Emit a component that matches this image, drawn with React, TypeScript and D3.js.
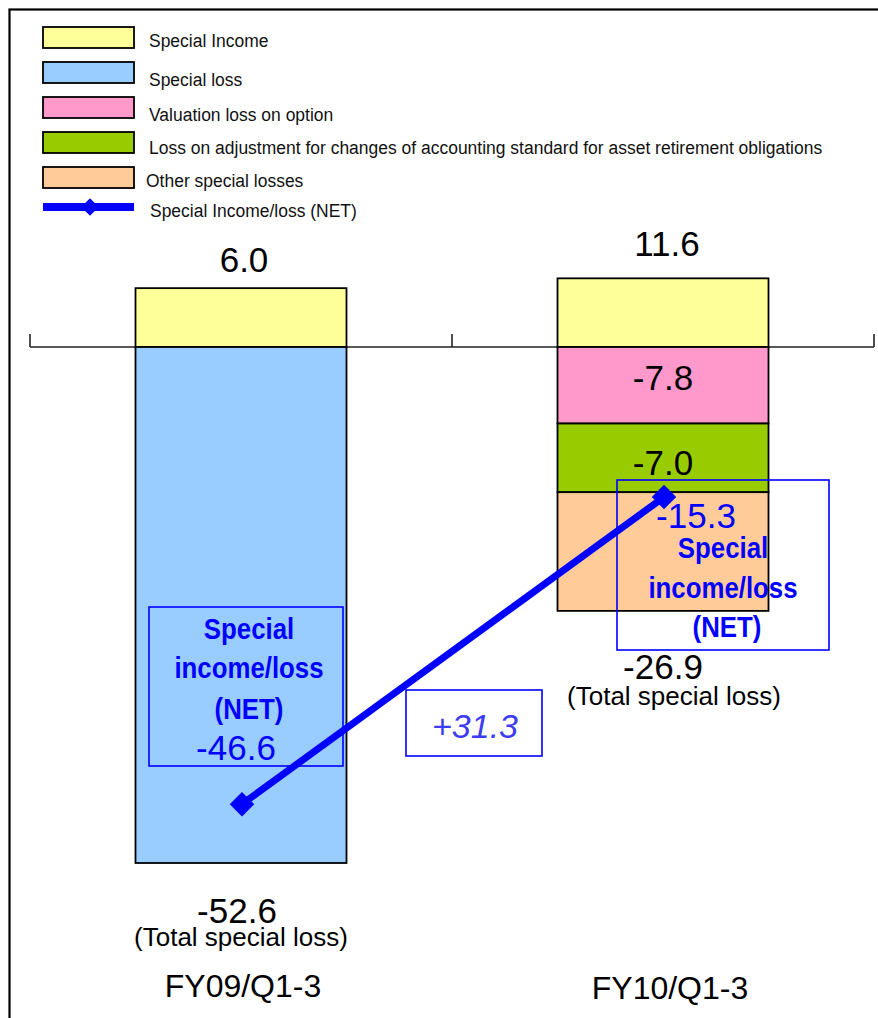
import React from "react";
import * as d3 from "d3";

const categories = ["FY09/Q1-3", "FY10/Q1-3"];
// special income as labelled, and as the source chart draws the bars
const incomeLabels = [6.0, 11.6];
const incomeDrawn = [6.0, 7.0];
const specialLoss = [-52.6, 0];
const valuationLoss = [0, -7.8];
const assetRetirementLoss = [0, -7.0];
const otherLosses = [0, -12.1];
const totalLoss = [-52.6, -26.9];
const netIncomeLoss = [-46.6, -15.3];
const netChange = "+31.3";

const legendItems = [
  { key: "income", label: "Special Income" },
  { key: "specialLoss", label: "Special loss" },
  { key: "valuation", label: "Valuation loss on option" },
  { key: "asset", label: "Loss on adjustment for changes of accounting standard for asset retirement obligations" },
  { key: "other", label: "Other special losses" },
];

const colors: Record<string, string> = {
  income: "#ffff99",
  specialLoss: "#99ccff",
  valuation: "#ff99cc",
  asset: "#99cc00",
  other: "#ffcc99",
};

const W = 878;
const H = 1018;
const FONT = "'Liberation Sans', Arial, sans-serif";
const BLUE = "#0000ff";

const App = () => {
  const x = d3.scaleBand().domain(categories).range([30, 874]).padding(0);
  const y = d3.scaleLinear().domain([0, -52.6]).range([347, 863]);
  const bw = x.bandwidth();
  const barW = bw * 0.5;
  const cx = (c: string) => (x(c) ?? 0) + bw / 2;

  const rows = categories.map((c, i) => ({
    cat: c,
    income: incomeDrawn[i],
    specialLoss: specialLoss[i],
    valuation: valuationLoss[i],
    asset: assetRetirementLoss[i],
    other: otherLosses[i],
  }));
  const keys = ["income", "specialLoss", "valuation", "asset", "other"];
  const series = d3
    .stack<any>()
    .keys(keys)
    .offset(d3.stackOffsetDiverging)(rows);

  // plain hyphen minus, like the original
  const fmt = (v: number) => v.toFixed(1);
  const segLabelOffset: Record<string, number> = { valuation: 43, asset: 51 };

  const netPts: [number, number][] = categories.map((c, i) => [cx(c) + 1, y(netIncomeLoss[i])]);
  const line = d3.line();
  const diamond = d3.symbol(d3.symbolSquare, 300)();

  const narrowBold = (t: string, tx: number, ty: number, key: string) => (
    <text
      key={key}
      transform={`translate(${tx},${ty}) scale(0.89,1)`}
      textAnchor="middle"
      fontSize={29}
      fontWeight="bold"
      fill={BLUE}
    >
      {t}
    </text>
  );

  const box0 = { x: 149, y: 607, w: 194, h: 159 };
  const box1 = { x: 617, y: 480, w: 212, h: 170 };
  const legendBase = [47, 86, 121, 154, 187];

  return (
    <svg
      width={W}
      height={H}
      style={{ position: "absolute", left: 0, top: 0, background: "#fff" }}
      fontFamily={FONT}
    >
      <rect x={9.5} y={9.5} width={W + 20} height={H + 20} fill="none" stroke="#000" strokeWidth={2.2} />

      {/* legend */}
      <g>
        {legendItems.map((d, i) => (
          <g key={d.key}>
            <rect x={43} y={27 + i * 35} width={91} height={21} fill={colors[d.key]} stroke="#000" strokeWidth={1.8} />
            <text
              transform={`translate(${i === 4 ? 146 : 149},${legendBase[i]}) scale(0.92,1)`}
              fontSize={19}
              fill="#111"
            >
              {d.label}
            </text>
          </g>
        ))}
        <line x1={43} x2={134} y1={207} y2={207} stroke={BLUE} strokeWidth={8} />
        <path d={diamond!} transform="translate(90,207) rotate(45) scale(0.72)" fill={BLUE} />
        <text transform="translate(150,217) scale(0.92,1)" fontSize={19} fill="#111">
          Special Income/loss (NET)
        </text>
      </g>

      {/* axis */}
      <line x1={x.range()[0]} x2={x.range()[1]} y1={y(0)} y2={y(0)} stroke="#222" strokeWidth={1.6} />
      {[...categories.map((c) => x(c) ?? 0), x.range()[1]].map((t, i) => (
        <line key={i} x1={t} x2={t} y1={y(0)} y2={y(0) - 13} stroke="#222" strokeWidth={1.6} />
      ))}

      {/* stacked bars */}
      {series.map((s) =>
        s.map((d, j) => {
          if (d[0] === d[1]) return null;
          const top = y(Math.max(d[0], d[1]));
          const bot = y(Math.min(d[0], d[1]));
          return (
            <rect
              key={s.key + j}
              x={cx(categories[j]) - barW / 2}
              y={top}
              width={barW}
              height={bot - top}
              fill={colors[s.key]}
              stroke="#000"
              strokeWidth={1.8}
            />
          );
        })
      )}

      {/* segment labels */}
      {series
        .filter((s) => segLabelOffset[s.key] !== undefined)
        .map((s) =>
          s.map((d, j) =>
            d[0] === d[1] ? null : (
              <text
                key={s.key + "l" + j}
                x={cx(categories[j])}
                y={y(d[1]) + segLabelOffset[s.key]}
                textAnchor="middle"
                fontSize={35}
                fill="#000"
              >
                {fmt(d[0] - d[1])}
              </text>
            )
          )
        )}

      {/* income labels */}
      {categories.map((c, i) => (
        <text
          key={"inc" + i}
          x={cx(c) + (i === 0 ? 3 : 4)}
          y={y(incomeDrawn[i]) - (i === 0 ? 16 : 22)}
          textAnchor="middle"
          fontSize={35}
        >
          {fmt(incomeLabels[i])}
        </text>
      ))}

      {/* total loss labels */}
      {categories.map((c, i) => {
        const bottom = y(totalLoss[i]);
        const dx = i === 0 ? -4 : 0;
        const dy = i === 0 ? 60 : 68;
        return (
          <g key={"tot" + i}>
            <text x={cx(c) + dx} y={bottom + dy} textAnchor="middle" fontSize={35}>
              {fmt(totalLoss[i])}
            </text>
            <text x={cx(c) + (i === 0 ? 0 : 11)} y={bottom + dy + (i === 0 ? 23 : 26)} textAnchor="middle" fontSize={26}>
              (Total special loss)
            </text>
          </g>
        );
      })}

      {/* category labels */}
      {categories.map((c, i) => (
        <text key={"cat" + i} x={cx(c) + (i === 0 ? 2 : 7)} y={i === 0 ? 997 : 999} textAnchor="middle" fontSize={32}>
          {c}
        </text>
      ))}

      {/* NET annotation boxes */}
      <rect x={box0.x} y={box0.y} width={box0.w} height={box0.h} fill="none" stroke={BLUE} strokeWidth={1.6} />
      {narrowBold("Special", 249, 639, "s0")}
      {narrowBold("income/loss", 249, 678, "i0")}
      {narrowBold("(NET)", 249, 719, "n0")}
      <text x={236} y={760} textAnchor="middle" fontSize={35} fill={BLUE}>
        {fmt(netIncomeLoss[0])}
      </text>

      <rect x={box1.x} y={box1.y} width={box1.w} height={box1.h} fill="none" stroke={BLUE} strokeWidth={1.6} />
      <text x={696} y={528} textAnchor="middle" fontSize={35} fill={BLUE}>
        {fmt(netIncomeLoss[1])}
      </text>
      {narrowBold("Special", 723, 558, "s1")}
      {narrowBold("income/loss", 723, 598, "i1")}
      {narrowBold("(NET)", 727, 637, "n1")}

      {/* change box */}
      <rect x={406} y={690} width={136} height={66} fill="#fff" stroke={BLUE} strokeWidth={1.6} />
      <text x={475} y={738} textAnchor="middle" fontSize={34} fontStyle="italic" fill="#3c3cf0">
        {netChange}
      </text>

      {/* NET line */}
      <path d={line(netPts)!} fill="none" stroke={BLUE} strokeWidth={7} />
      {netPts.map((p, i) => (
        <path key={"d" + i} d={diamond!} transform={`translate(${p[0]},${p[1]}) rotate(45)`} fill={BLUE} />
      ))}
    </svg>
  );
};

export default App;
